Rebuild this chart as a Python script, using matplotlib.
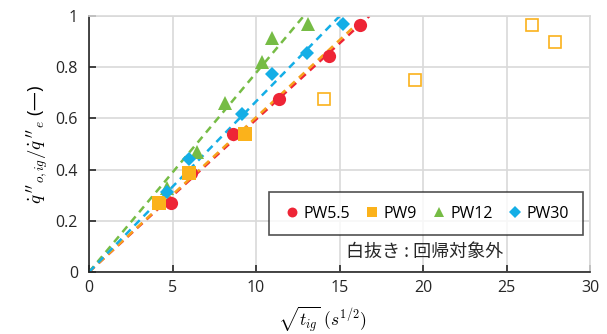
import matplotlib.pyplot as plt
import numpy as np

# sqrt(t_ig) and normalised heat flux for each series
pw55_x = [4.89, 6.10, 8.64, 11.40, 14.40, 16.20]
pw55_y = [0.270, 0.387, 0.540, 0.675, 0.842, 0.965]

pw9_x = [4.21, 5.97, 9.34]
pw9_y = [0.270, 0.387, 0.540]
pw9_open_x = [14.10, 19.50, 26.50, 27.90]
pw9_open_y = [0.675, 0.750, 0.965, 0.900]

pw12_x = [4.69, 6.45, 8.14, 10.34, 10.98, 13.13]
pw12_y = [0.329, 0.470, 0.660, 0.822, 0.913, 0.969]

pw30_x = [4.69, 5.97, 9.14, 10.94, 13.03, 15.23]
pw30_y = [0.312, 0.442, 0.618, 0.774, 0.857, 0.968]

labels = ["PW5.5", "PW9", "PW12", "PW30"]
colors = ["#EE2536", "#FBB21B", "#76BC45", "#14AEE6"]
line_colors = ["#EE2536", "#F7A21B", "#76BC45", "#14AEE6"]
markers = ["o", "s", "^", "D"]
sizes = [9.5, 9.5, 9.5, 7.5]

plt.rcParams["font.family"] = ["Open Sans", "Noto Sans CJK JP", "DejaVu Sans"]
plt.rcParams["mathtext.fontset"] = "cm"

fig = plt.figure(figsize=(6.07, 3.34), dpi=100)
ax = fig.add_axes([89 / 607, 62 / 334, 501 / 607, 256 / 334])

series = [(pw55_x, pw55_y), (pw9_x, pw9_y), (pw12_x, pw12_y), (pw30_x, pw30_y)]

# regression lines through the origin
for (xs, ys), lc in zip(series, line_colors):
    xs = np.array(xs)
    ys = np.array(ys)
    slope = (xs * ys).sum() / (xs * xs).sum()
    xe = 1.0 / slope
    ax.plot([0, xe], [0, 1.0], ls=(0, (3, 2.2)), color=lc, lw=1.8, zorder=2)

for (xs, ys), lab, c, m, s in zip(series, labels, colors, markers, sizes):
    ax.plot(xs, ys, ls="none", marker=m, color=c, markersize=s,
            markeredgewidth=0, label=lab, zorder=3)

ax.plot(pw9_open_x, pw9_open_y, ls="none", marker="s", markersize=8.5,
        markerfacecolor="white", markeredgecolor="#FBB21B",
        markeredgewidth=1.2, zorder=3)

ax.set_xlim(0, 30)
ax.set_ylim(0, 1)
ax.set_xticks(np.arange(0, 31, 5))
ax.set_yticks([0, 0.2, 0.4, 0.6, 0.8, 1.0])
ax.set_yticklabels(["0", "0.2", "0.4", "0.6", "0.8", "1"])
ax.grid(True, color="#D9D9D9", lw=1.2)
ax.set_axisbelow(True)
for side in ["top", "right"]:
    ax.spines[side].set_color("#D9D9D9")
    ax.spines[side].set_linewidth(1.2)
for side in ["left", "bottom"]:
    ax.spines[side].set_color("#262626")
    ax.spines[side].set_linewidth(1.2)
ax.tick_params(direction="in", length=5, width=1.2, labelsize=11.5,
               colors="#262626", pad=6)
ax.tick_params(axis="y", pad=8)

ax.set_xlabel(r"$\sqrt{t_{ig}}\ (s^{1/2})$", fontsize=12.5)
ax.xaxis.set_label_coords((322 - 89) / 501, -(305 - 272) / 256)
ax.set_ylabel(r"$\dot{q}\,''_{o,ig}/\dot{q}\,''_{e}$ (—)",
              fontsize=13.5, labelpad=4)

leg = ax.legend(loc="upper left", bbox_to_anchor=(180 / 501, 80 / 256),
                borderaxespad=0, ncol=4, frameon=True, fancybox=False,
                fontsize=11.5, handletextpad=0.1, columnspacing=0.8,
                borderpad=0.85, handlelength=1.2, markerscale=0.75)
leg.get_frame().set_edgecolor("#262626")
leg.get_frame().set_linewidth(1.2)

ax.text(336 / 501, 20 / 256, "白抜き : 回帰対象外", transform=ax.transAxes,
        ha="center", va="center", fontsize=13, color="#262626",
        family=["Noto Sans CJK JP", "DejaVu Sans"])

fig.savefig("out.png", dpi=100)
